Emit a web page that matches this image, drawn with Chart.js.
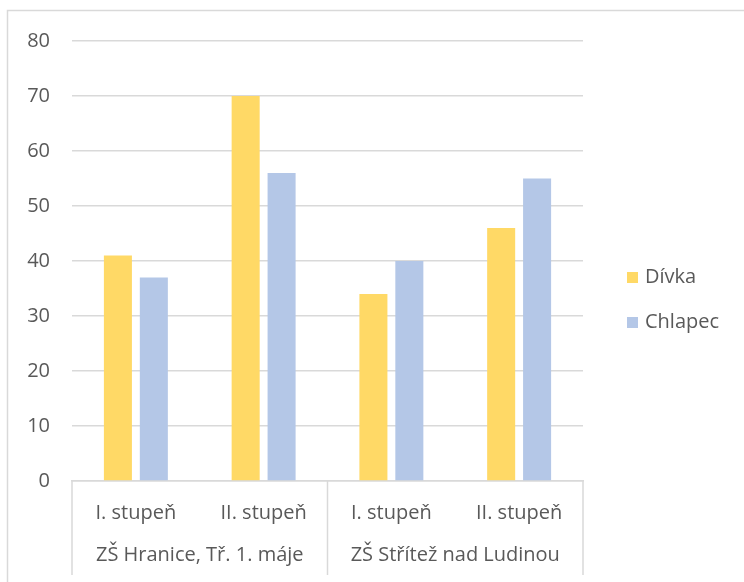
<!DOCTYPE html>
<html>
<head>
<meta charset="utf-8">
<script src="https://cdn.jsdelivr.net/npm/chart.js@4/dist/chart.umd.min.js"></script>
<style>
  html, body { margin: 0; padding: 0; background: #ffffff; }
  #wrap { position: relative; width: 744px; height: 582px; }
</style>
</head>
<body>
<div id="wrap"><canvas id="chart" width="744" height="582"></canvas></div>
<script>
// Grade levels (inner axis row) and schools (outer axis row)
const stupne = ['I. stupeň', 'II. stupeň', 'I. stupeň', 'II. stupeň'];
const skoly = ['ZŠ Hranice, Tř. 1. máje', 'ZŠ Střítež nad Ludinou'];
const skolaRozsah = [[0, 1], [2, 3]];

// Counts per category
const divka = [41, 70, 34, 46];
const chlapec = [37, 56, 40, 55];

const yTicks = [0, 10, 20, 30, 40, 50, 60, 70, 80];

const FONT = '"Open Sans", "Segoe UI", sans-serif';
const FSIZE = 20;
const TEXT = '#595959';
const LINE = '#d9d9d9';

// Outer frame, school row with its dividers, and legend on the right
const decor = {
  id: 'decor',
  beforeDraw(chart) {
    const ctx = chart.ctx;
    ctx.save();
    ctx.strokeStyle = LINE;
    ctx.lineWidth = 1.5;
    ctx.beginPath();
    ctx.moveTo(7.5, chart.height + 5);
    ctx.lineTo(7.5, 10.5);
    ctx.lineTo(chart.width + 5, 10.5);
    ctx.stroke();
    ctx.restore();
  },
  afterDraw(chart) {
    const ctx = chart.ctx;
    const x = chart.scales.x;
    const top = chart.chartArea.bottom;
    const bottom = 575;
    ctx.save();
    ctx.strokeStyle = LINE;
    ctx.lineWidth = 1.5;
    const bounds = [x.getPixelForValue(-0.5), x.getPixelForValue(1.5), x.getPixelForValue(3.5)];
    bounds.forEach(px => {
      ctx.beginPath();
      ctx.moveTo(px, top);
      ctx.lineTo(px, bottom);
      ctx.stroke();
    });
    ctx.fillStyle = TEXT;
    ctx.font = FSIZE + 'px ' + FONT;
    ctx.textAlign = 'center';
    ctx.textBaseline = 'middle';
    skoly.forEach((s, i) => {
      const a = x.getPixelForValue(skolaRozsah[i][0] - 0.5);
      const b = x.getPixelForValue(skolaRozsah[i][1] + 0.5);
      ctx.fillText(s, (a + b) / 2, 555);
    });
    // legend
    ctx.textAlign = 'left';
    chart.data.datasets.forEach((ds, i) => {
      const cy = 277 + i * 45;
      ctx.fillStyle = ds.backgroundColor;
      ctx.fillRect(627, cy - 5, 11, 11);
      ctx.fillStyle = TEXT;
      ctx.fillText(ds.label, 645, cy);
    });
    ctx.restore();
  }
};

new Chart(document.getElementById('chart'), {
  type: 'bar',
  data: {
    labels: stupne,
    datasets: [
      { label: 'Dívka', data: divka, backgroundColor: '#ffd966' },
      { label: 'Chlapec', data: chlapec, backgroundColor: '#b4c7e7' }
    ]
  },
  options: {
    responsive: false,
    animation: false,
    layout: { padding: { top: 41, left: 0, right: 161, bottom: 0 } },
    datasets: { bar: { categoryPercentage: 0.5625, barPercentage: 0.78 } },
    plugins: {
      legend: { display: false },
      tooltip: { enabled: false }
    },
    scales: {
      y: {
        min: 0, max: 80,
        afterFit(scale) { scale.width = 72; },
        afterBuildTicks(scale) { scale.ticks = yTicks.map(v => ({ value: v })); },
        border: { display: false },
        grid: { color: LINE, lineWidth: 1.5, drawTicks: false },
        ticks: { padding: 22, color: TEXT, font: { family: FONT, size: FSIZE } }
      },
      x: {
        afterFit(scale) { scale.height = 101; },
        border: { display: true, color: LINE, width: 1.5 },
        grid: { display: false, drawTicks: false },
        ticks: { padding: 20, color: TEXT, font: { family: FONT, size: FSIZE } }
      }
    }
  },
  plugins: [decor]
});
</script>
</body>
</html>
